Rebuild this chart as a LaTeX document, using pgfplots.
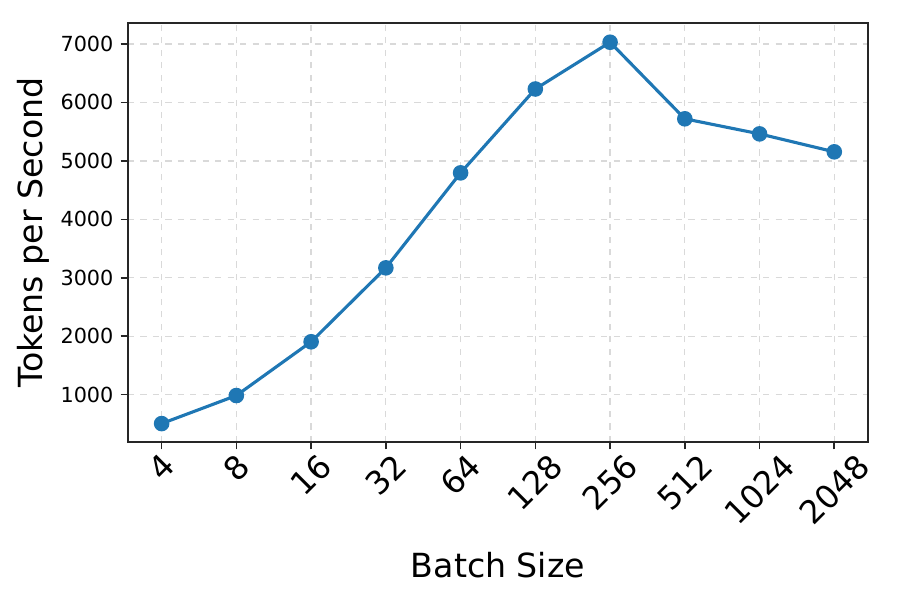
\documentclass[border=0pt]{standalone}
\usepackage{pgfplots}
\pgfplotsset{compat=1.18}
\usepackage{fontspec}
\setmainfont{DejaVu Sans}
\usepackage{graphicx}
\definecolor{mplblue}{HTML}{1F77B4}
\begin{document}
\begin{tikzpicture}
\useasboundingbox (-61.67pt,-76.12pt) rectangle (371.95pt,212.96pt);
\begin{axis}[
  at={(0,0)}, anchor=south west,
  scale only axis,
  width=356.5pt, height=201.9pt,
  xmin=-0.45, xmax=9.45,
  ymin=190, ymax=7360,
  xtick={0,1,2,3,4,5,6,7,8,9},
  xticklabels={\rotatebox{45}{4},\rotatebox{45}{8},\rotatebox{45}{16},\rotatebox{45}{32},\rotatebox{45}{64},\rotatebox{45}{128},\rotatebox{45}{256},\rotatebox{45}{512},\rotatebox{45}{1024},\rotatebox{45}{2048}},
  xticklabel style={anchor=north, inner sep=1pt, font=\fontsize{15.5}{18}\selectfont},
  ytick={1000,2000,3000,4000,5000,6000,7000},
  yticklabel style={font=\fontsize{10}{12}\selectfont},
  scaled y ticks=false,
  /pgf/number format/assume math mode=true,
  /pgf/number format/1000 sep={},
  tick align=outside,
  major tick length=3.5pt,
  tick pos=left,
  axis line style={line width=0.8pt, black!85},
  tick style={line width=0.8pt, black!85},
  grid=major,
  major grid style={dashed, line width=0.6pt, black!15},
  xlabel={Batch Size},
  ylabel={Tokens per Second},
  every axis x label/.style={at={(axis description cs:0.5,0)}, anchor=center, yshift=-59.26pt, font=\fontsize{16}{19}\selectfont},
  every axis y label/.style={at={(axis description cs:0,0.5)}, anchor=center, rotate=90, yshift=45.77pt, font=\fontsize{16}{19}\selectfont},
]
\addplot[color=mplblue, line width=1.5pt, mark=*, mark size=3pt, mark options={fill=mplblue, draw=none}]
  coordinates {(0,505) (1,985) (2,1905) (3,3170) (4,4795) (5,6230) (6,7030) (7,5720) (8,5462) (9,5155)};
\end{axis}
\end{tikzpicture}
\end{document}
